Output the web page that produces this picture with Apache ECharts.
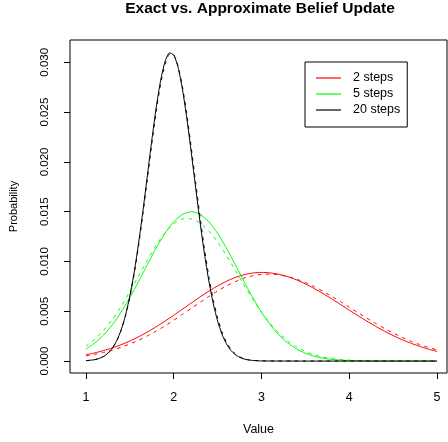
<!DOCTYPE html>
<html>
<head>
<meta charset="utf-8">
<script src="https://cdn.jsdelivr.net/npm/echarts@6/dist/echarts.min.js"></script>
<style>html,body{margin:0;padding:0;background:#fff}#c{width:448px;height:442px}</style>
</head>
<body>
<div id="c"></div>
<script>
// ---- data ----
const xGrid = [1.0,1.1,1.2,1.3,1.4,1.5,1.6,1.7,1.8,1.9,2.0,2.1,2.2,2.3,2.4,2.5,2.6,2.7,2.8,2.9,3.0,3.1,3.2,3.3,3.4,3.5,3.6,3.7,3.8,3.9,4.0,4.1,4.2,4.3,4.4,4.5,4.6,4.7,4.8,4.9,5.0];
const xBlack = [1.00,1.05,1.10,1.15,1.20,1.25,1.30,1.35,1.40,1.45,1.50,1.55,1.60,1.65,1.70,1.75,1.80,1.85,1.90,1.95,2.00,2.05,2.10,2.15,2.20,2.25,2.30,2.35,2.40,2.45,2.50,2.55,2.60,2.65,2.70,2.75,2.80,2.85,2.90,3.0,3.5,4.0,4.5,5.0];

const red2Exact = [0.00063,0.00082,0.00105,0.00132,0.00164,0.00201,0.00244,0.00291,0.00344,0.00400,0.00460,0.00521,0.00583,0.00644,0.00702,0.00755,0.00801,0.00839,0.00867,0.00884,0.00890,0.00885,0.00871,0.00847,0.00815,0.00775,0.00729,0.00678,0.00624,0.00568,0.00511,0.00455,0.00401,0.00349,0.00300,0.00256,0.00215,0.00180,0.00148,0.00120,0.00097];
const red2Approx = [0.00051,0.00067,0.00087,0.00110,0.00138,0.00171,0.00209,0.00253,0.00301,0.00353,0.00410,0.00469,0.00529,0.00590,0.00649,0.00704,0.00754,0.00797,0.00832,0.00856,0.00870,0.00873,0.00865,0.00848,0.00822,0.00788,0.00747,0.00701,0.00650,0.00596,0.00541,0.00485,0.00430,0.00378,0.00328,0.00281,0.00239,0.00200,0.00166,0.00137,0.00111];
const green5Exact = [0.00121,0.00181,0.00261,0.00364,0.00490,0.00637,0.00800,0.00969,0.01134,0.01282,0.01399,0.01474,0.01500,0.01474,0.01399,0.01282,0.01134,0.00969,0.00800,0.00637,0.00490,0.00364,0.00261,0.00181,0.00121,0.00078,0.00049,0.00029,0.00017,0.00010,0.00005,0.00003,0.00001,0,0,0,0,0,0,0,0];
const green5Approx = [0.00150,0.00218,0.00307,0.00417,0.00548,0.00696,0.00855,0.01014,0.01162,0.01288,0.01379,0.01427,0.01428,0.01386,0.01306,0.01194,0.01061,0.00914,0.00765,0.00621,0.00490,0.00375,0.00278,0.00201,0.00140,0.00095,0.00063,0.00040,0.00025,0.00015,0.00009,0.00005,0.00003,0.00001,0,0,0,0,0,0,0];
const black20Exact = [0.00004,0.00008,0.00014,0.00026,0.00046,0.00078,0.00129,0.00204,0.00311,0.00459,0.00653,0.00896,0.01186,0.01514,0.01866,0.02218,0.02544,0.02815,0.03005,0.03094,0.03074,0.02947,0.02725,0.02431,0.02093,0.01738,0.01393,0.01076,0.00803,0.00578,0.00401,0.00268,0.00173,0.00108,0.00065,0.00038,0.00021,0.00011,0.00006,0.00001,0,0,0,0];
const black20Approx = [0.00004,0.00008,0.00014,0.00026,0.00046,0.00078,0.00127,0.00201,0.00306,0.00450,0.00640,0.00878,0.01162,0.01485,0.01831,0.02181,0.02507,0.02781,0.02979,0.03079,0.03073,0.02960,0.02752,0.02470,0.02140,0.01790,0.01445,0.01126,0.00847,0.00615,0.00431,0.00291,0.00190,0.00120,0.00073,0.00043,0.00024,0.00013,0.00007,0.00002,0,0,0,0];

const legendNames = ['2 steps','5 steps','20 steps'];
const xTicks = [1,2,3,4,5];
const yTicks = [0,0.005,0.010,0.015,0.020,0.025,0.030];
const titleText = 'Exact vs. Approximate Belief Update';
const xName = 'Value';
const yName = 'Probability';

// ---- chart ----
const FONT = '"Liberation Sans", Arial, Helvetica, sans-serif';
const zip = (xs, ys) => xs.map((x, i) => [x, ys[i]]);
function line(name, xs, ys, color, dashed) {
  return {
    name: name, type: 'line', data: zip(xs, ys), showSymbol: false, symbol: 'none',
    smooth: 0.2, silent: true,
    lineStyle: { color: color, width: 1, type: dashed ? [3.5, 4.5] : 'solid' },
    itemStyle: { color: color }
  };
}
const chart = echarts.init(document.getElementById('c'), null, { renderer: 'canvas' });
chart.setOption({
  animation: false,
  backgroundColor: '#fff',
  textStyle: { fontFamily: FONT },
  graphic: [{
    type: 'text', x: 260, y: 9,
    style: { text: titleText, fontFamily: FONT, fontWeight: 'bold', fontSize: 15.5, fill: '#000', align: 'center', verticalAlign: 'middle' }
  }],
  grid: { left: 69, top: 40, right: 1, bottom: 69, show: true, borderColor: '#000', borderWidth: 1, backgroundColor: 'transparent' },
  legend: {
    data: legendNames, orient: 'vertical', left: 305, top: 62,
    selectedMode: false, icon: 'rect', itemWidth: 25, itemHeight: 1.2, itemGap: 2,
    borderColor: '#000', borderWidth: 1, borderRadius: 0, padding: [9, 7, 10, 11],
    textStyle: { color: '#000', fontSize: 12.5, fontFamily: FONT, lineHeight: 14, padding: [0, 0, 0, 7] }
  },
  xAxis: {
    type: 'value', min: 0.818, max: 5.1135,
    axisLine: { show: false, onZero: false }, splitLine: { show: false },
    axisTick: { show: true, length: 6, inside: false, customValues: xTicks, lineStyle: { color: '#000' } },
    axisLabel: { customValues: xTicks, color: '#000', fontSize: 12.5, margin: 18, fontFamily: FONT },
    name: xName, nameLocation: 'middle', nameGap: 50,
    nameTextStyle: { color: '#000', fontSize: 12.5, fontFamily: FONT }
  },
  yAxis: {
    type: 'value', min: -0.0012, max: 0.03224,
    axisLine: { show: false, onZero: false }, splitLine: { show: false },
    axisTick: { show: true, length: 6, inside: false, customValues: yTicks, lineStyle: { color: '#000' } },
    axisLabel: { customValues: yTicks, rotate: 90, color: '#000', fontSize: 11.5, margin: 19, fontFamily: FONT,
      formatter: v => v.toFixed(3) },
    name: yName, nameLocation: 'middle', nameGap: 51, nameRotate: 90,
    nameTextStyle: { color: '#000', fontSize: 11, fontFamily: FONT }
  },
  series: [
    line('2 steps', xGrid, red2Exact, '#ff0000', false),
    line('2 steps approx', xGrid, red2Approx, '#ff0000', true),
    line('5 steps', xGrid, green5Exact, '#00ff00', false),
    line('5 steps approx', xGrid, green5Approx, '#00ff00', true),
    line('20 steps', xBlack, black20Exact, '#000000', false),
    line('20 steps approx', xBlack, black20Approx, '#000000', true)
  ]
});
</script>
</body>
</html>
